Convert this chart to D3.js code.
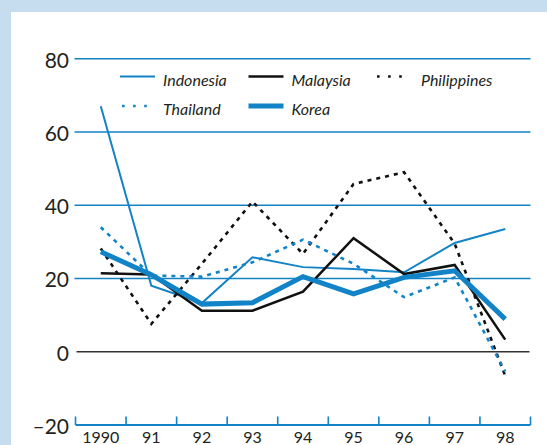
<!DOCTYPE html>
<html>
<head>
<meta charset="utf-8">
<script src="https://cdn.jsdelivr.net/npm/d3@7"></script>
<style>
  body { margin: 0; background: #c6dcef; }
  svg { display: block; }
  .tick text { font-family: Lato, "Open Sans", sans-serif; fill: #231f20; }
  .legend text { font-family: Lato, sans-serif; font-style: italic; font-size: 16px; fill: #231f20; }
</style>
</head>
<body>
<div id="chart"></div>
<script>
const years = ["1990", "91", "92", "93", "94", "95", "96", "97", "98"];
const yTicks = [-20, 0, 20, 40, 60, 80];

const indonesia   = [67, 18, 13.3, 25.8, 23.1, 22.6, 21.7, 29.7, 33.5];
const malaysia    = [21.4, 21.1, 11.2, 11.2, 16.4, 31, 21.2, 23.7, 3.3];
const philippines = [28.2, 7.6, 24, 41, 26.7, 45.8, 49, 29.5, -6.6];
const thailand    = [34, 20.8, 20.5, 24.4, 30.6, 24, 14.9, 20.3, -5.4];
const korea       = [27.3, 21, 13, 13.4, 20.5, 15.8, 20.3, 22.1, 8.9];

const blue = "#1283c6", black = "#111";

const series = [
  { name: "Indonesia",   values: indonesia,   color: blue,  width: 2,   dash: null,  row: 0, col: 0 },
  { name: "Malaysia",    values: malaysia,    color: black, width: 2.5, dash: null,  row: 0, col: 1 },
  { name: "Philippines", values: philippines, color: black, width: 2.6, dash: "4,5", row: 0, col: 2 },
  { name: "Thailand",    values: thailand,    color: blue,  width: 2.6, dash: "4,5", row: 1, col: 0 },
  { name: "Korea",       values: korea,       color: blue,  width: 5,   dash: null,  row: 1, col: 1 }
];

const W = 547, H = 445;

const svg = d3.select("#chart").append("svg")
  .attr("width", W)
  .attr("height", H);

// white panel on the light blue page
svg.append("rect")
  .attr("x", 11).attr("y", 12)
  .attr("width", W - 11).attr("height", H - 12)
  .attr("fill", "#fff");

const x = d3.scaleBand().domain(years).range([75.5, 530.5]);
const y = d3.scaleLinear().domain([-20, 80]).range([425, 58.7]);
const cx = d => x(d) + x.bandwidth() / 2;

// gridlines
svg.append("g").selectAll("line")
  .data(yTicks.filter(d => d > -20))
  .enter().append("line")
  .attr("x1", d => d == 0 ? 76.5 : 74.5)
  .attr("x2", d => d == 0 ? 529.5 : 530.5)
  .attr("y1", d => y(d)).attr("y2", d => y(d))
  .attr("stroke", d => d == 0 ? "#333" : blue)
  .attr("stroke-width", 1.6);

// y labels
const yAxis = svg.append("g")
  .attr("transform", "translate(69,0)")
  .call(d3.axisLeft(y).tickValues(yTicks).tickSize(0).tickPadding(0)
    .tickFormat(d => d < 0 ? "\u2013" + Math.abs(d) : d));
yAxis.select(".domain").remove();
yAxis.selectAll("text").attr("font-size", 21).attr("dy", "0.4em");

// x axis: line at -20 with ticks on band edges
const xg = svg.append("g");
xg.append("line")
  .attr("x1", 75.5).attr("x2", 530.5)
  .attr("y1", y(-20)).attr("y2", y(-20))
  .attr("stroke", blue).attr("stroke-width", 2);
xg.selectAll(".edge")
  .data(years.map(d => x(d)).concat([x.range()[1]]))
  .enter().append("line")
  .attr("class", "edge")
  .attr("x1", d => d).attr("x2", d => d)
  .attr("y1", y(-20)).attr("y2", y(-20) - 8.5)
  .attr("stroke", blue).attr("stroke-width", 1.6);

const xAxis = svg.append("g")
  .attr("transform", "translate(0," + y(-20) + ")")
  .call(d3.axisBottom(x).tickSize(0).tickPadding(0));
xAxis.select(".domain").remove();
xAxis.selectAll("text").attr("font-size", 16).attr("dy", "1.12em");

// lines
const line = d3.line()
  .x((d, i) => cx(years[i]))
  .y(d => y(d));

svg.append("g").selectAll("path")
  .data(series)
  .enter().append("path")
  .attr("d", d => line(d.values))
  .attr("fill", "none")
  .attr("stroke", d => d.color)
  .attr("stroke-width", d => d.width)
  .attr("stroke-dasharray", d => d.dash)
  .attr("stroke-linejoin", "miter");

// legend
const colX = [120, 248.5, 375];
const rowY = [76.5, 106];
const legend = svg.append("g").attr("class", "legend")
  .selectAll("g")
  .data(series)
  .enter().append("g")
  .attr("transform", d => "translate(" + colX[d.col] + "," + rowY[d.row] + ")");

legend.append("line")
  .attr("x1", d => d.dash ? 2 : 0)
  .attr("x2", 35)
  .attr("stroke", d => d.color)
  .attr("stroke-width", d => d.dash ? 2.6 : d.width)
  .attr("stroke-dasharray", d => d.dash ? "2.6,8.5" : null);

legend.append("text")
  .attr("x", d => d.dash && d.row == 0 ? 46 : 43)
  .attr("y", 9)
  .text(d => d.name);
</script>
</body>
</html>
